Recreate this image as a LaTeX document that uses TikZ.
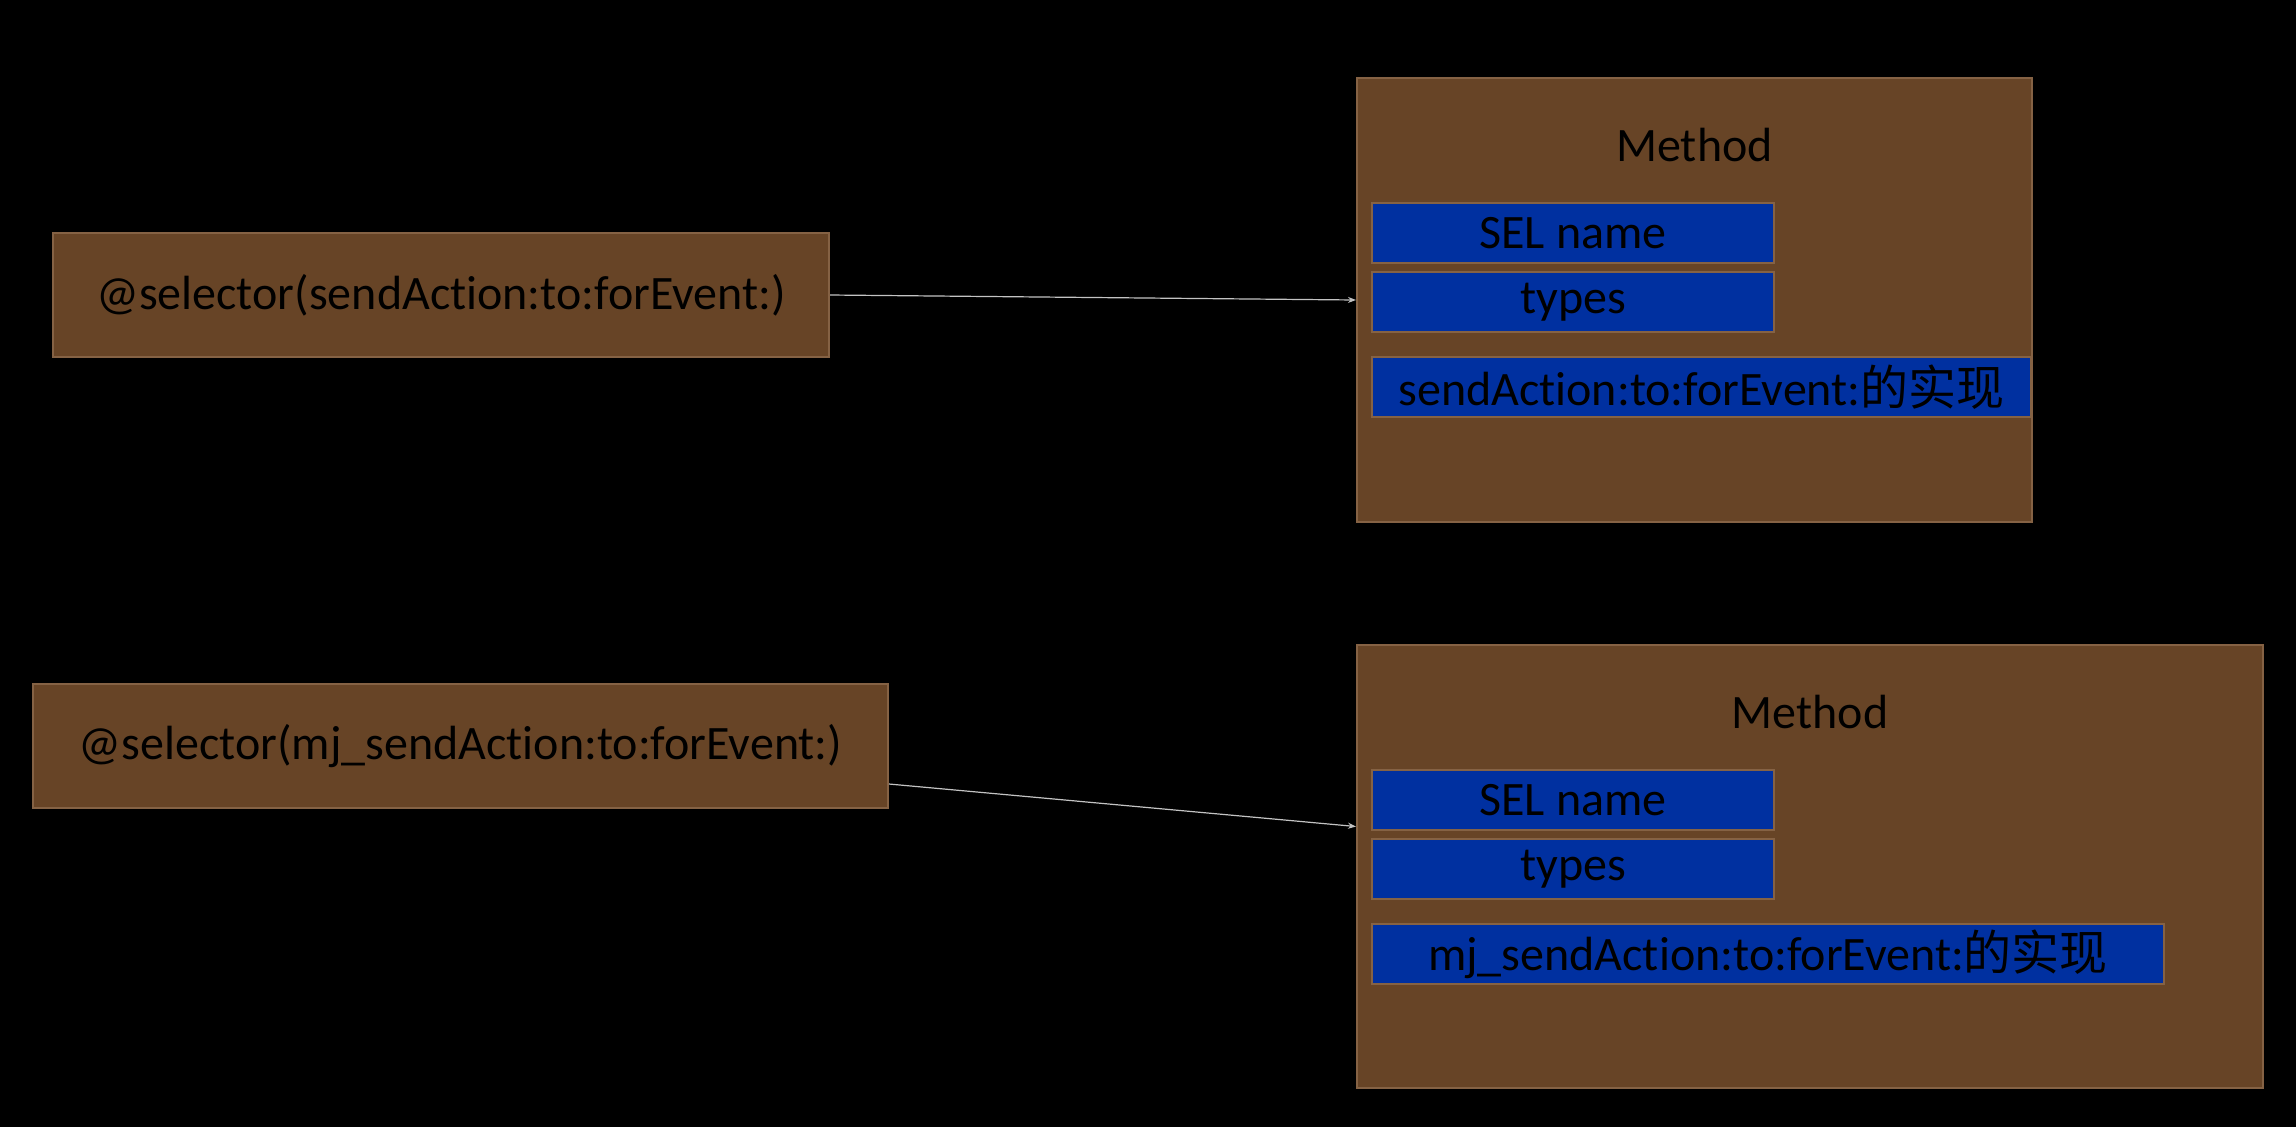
\documentclass[tikz,border=0pt]{standalone}
\usepackage{fontspec}
\setmainfont{Carlito}[Ligatures=NoCommon]
\newfontfamily\cjk{Noto Sans CJK SC}
\usetikzlibrary{arrows.meta,positioning}
\definecolor{boxbrown}{RGB}{103,68,38}
\definecolor{edgebrown}{RGB}{133,98,68}
\definecolor{selblue}{RGB}{0,48,160}
\definecolor{linkgray}{RGB}{195,195,195}

\begin{document}
\begin{tikzpicture}[x=0.5pt, y=-0.5pt,
  every node/.style={font=\fontsize{24}{28}\selectfont, text=black},
  brownbox/.style={draw=edgebrown, line width=1pt, fill=boxbrown, anchor=north west, inner sep=0pt},
  fieldbox/.style={draw=edgebrown, line width=1pt, fill=selblue, inner sep=0pt, minimum height=30pt},
  link/.style={-{Stealth[length=4pt,width=3pt]}, linkgray, line width=0.6pt}]
  % background
  \useasboundingbox (0,0) rectangle (2296,1126);
  \fill[black] (-20,-20) rectangle (2316,1146);
  % selectors
  \node (sel1) [brownbox, minimum width=388pt, minimum height=62pt] at (52,232) {@selector(sendAction:to:forEvent:)};
  \node (sel2) [brownbox, minimum width=427.5pt, minimum height=62pt] at (32,683) {@selector(mj\_sendAction:to:forEvent:)};
  % first method
  \node (method1) [brownbox, minimum width=337.5pt, minimum height=222pt] at (1356,77) {};
  \node (title1) at ([yshift=-34pt]method1.north) {Method};
  \node (name1) [fieldbox, anchor=north west, minimum width=201pt] at (1371,202) {SEL name};
  \node (types1) [fieldbox, minimum width=201pt, below=3.5pt of name1] {types};
  \node (imp1) [fieldbox, anchor=north west, minimum width=329.5pt] at (1371,356) {sendAction:to:forEvent:{\cjk 的实现}};
  % second method
  \node (method2) [brownbox, minimum width=453pt, minimum height=221.5pt] at (1356,644) {};
  \node (title2) at ([yshift=-34pt]method2.north) {Method};
  \node (name2) [fieldbox, anchor=north west, minimum width=201pt] at (1371,769) {SEL name};
  \node (types2) [fieldbox, minimum width=201pt, below=3.5pt of name2] {types};
  \node (imp2) [fieldbox, anchor=north west, minimum width=396pt] at (1371,923) {mj\_sendAction:to:forEvent:{\cjk 的实现}};
  % links
  \draw[link] (sel1.east) -- (method1.west);
  \draw[link] ([yshift=-19pt]sel2.east) -- ([yshift=20pt]method2.west);
\end{tikzpicture}
\end{document}
